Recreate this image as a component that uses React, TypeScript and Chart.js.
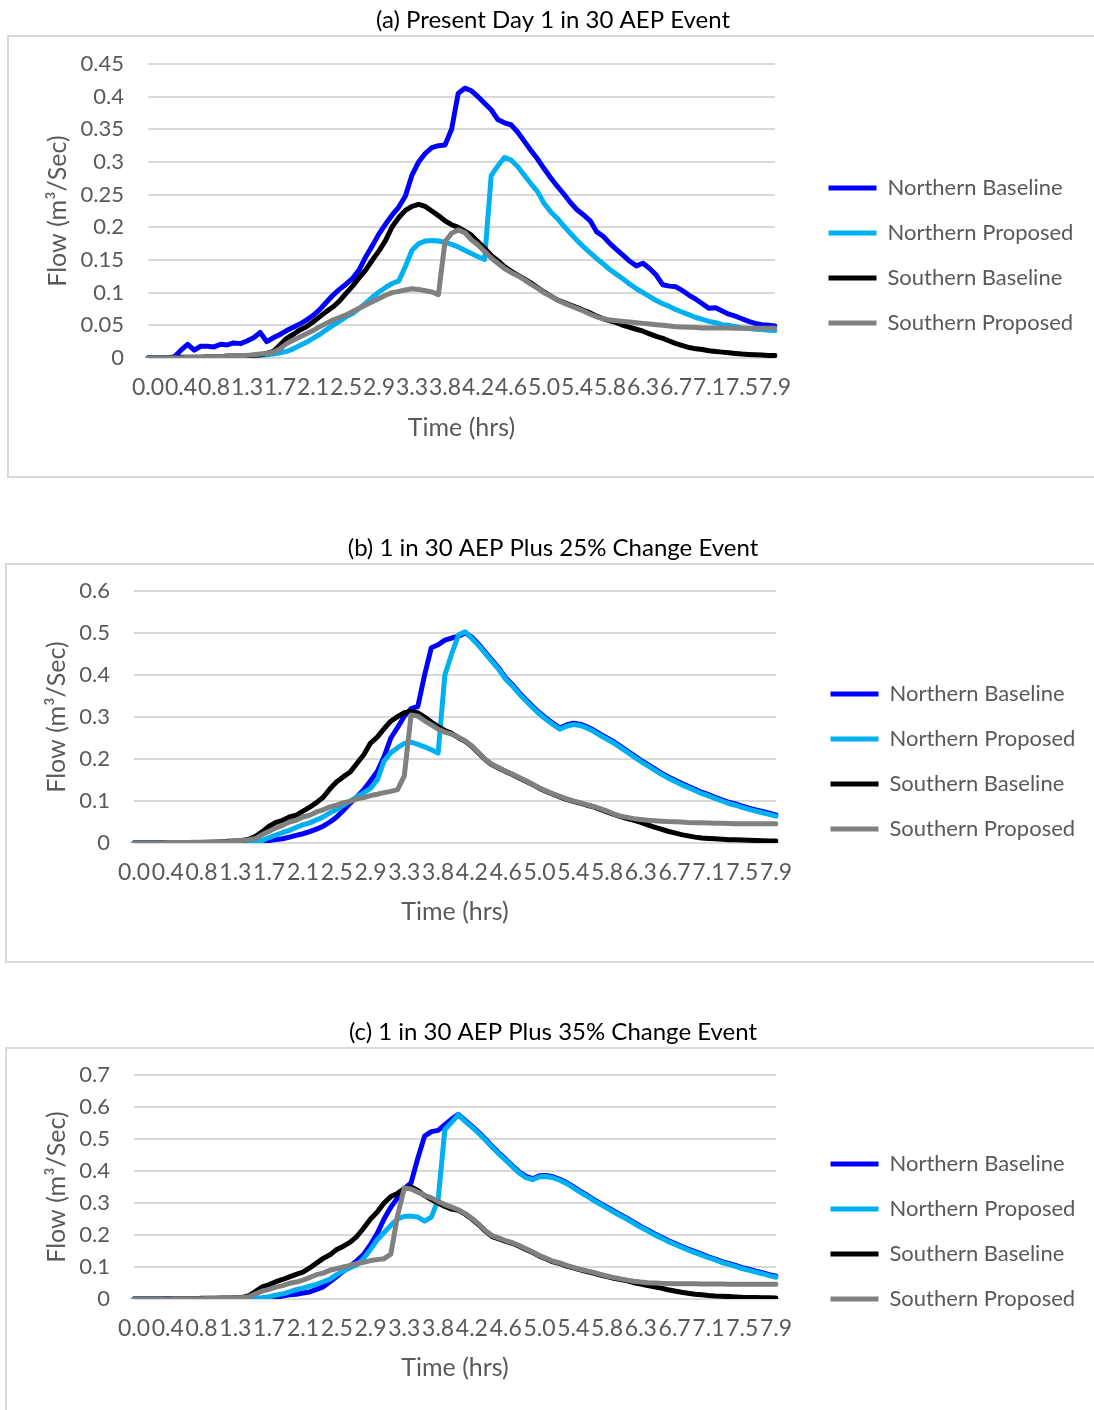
import React, { useEffect, useRef } from "react";
import { Chart, registerables } from "chart.js";

Chart.register(...registerables);

// ---------------- data ----------------
const TIME_LABELS = [
  "0.0","0.1","0.2","0.3","0.3","0.4","0.5","0.6","0.7","0.8",
  "0.8","0.9","1.0","1.1","1.2","1.3","1.3","1.4","1.5","1.6",
  "1.7","1.8","1.8","1.9","2.0","2.1","2.2","2.3","2.3","2.4",
  "2.5","2.6","2.7","2.8","2.8","2.9","3.0","3.1","3.2","3.3",
  "3.3","3.4","3.5","3.6","3.7","3.8","3.8","3.9","4.0","4.1",
  "4.2","4.3","4.3","4.4","4.5","4.6","4.7","4.8","4.8","4.9",
  "5.0","5.1","5.2","5.3","5.3","5.4","5.5","5.6","5.7","5.8",
  "5.8","5.9","6.0","6.1","6.2","6.3","6.3","6.4","6.5","6.6",
  "6.7","6.8","6.8","6.9","7.0","7.1","7.2","7.3","7.3","7.4",
  "7.5","7.6","7.7","7.8","7.8","7.9",
];
const LABEL_STEP = 5;

const SERIES_NAMES = ["Northern Baseline", "Northern Proposed", "Southern Baseline", "Southern Proposed"];
const SERIES_COLORS = ["#0000FF", "#00B0F0", "#000000", "#808080"];

const TITLES = [
  "(a) Present Day 1 in 30 AEP Event",
  "(b) 1 in 30 AEP Plus 25% Change Event",
  "(c) 1 in 30 AEP Plus 35% Change Event",
];
const X_TITLE = "Time (hrs)";
const Y_TITLE = "Flow (m³/Sec)";
const Y_MAX = [0.45, 0.6, 0.7];
const Y_STEP = [0.05, 0.1, 0.1];

// (a) Present day
const A_NORTH_BASE = [
  0, 0, 0, 0, 0.002, 0.012, 0.021, 0.012, 0.018, 0.018,
  0.017, 0.021, 0.020, 0.023, 0.022, 0.026, 0.031, 0.039, 0.025, 0.031,
  0.036, 0.042, 0.047, 0.052, 0.058, 0.065, 0.074, 0.085, 0.096, 0.105,
  0.113, 0.122, 0.135, 0.155, 0.172, 0.190, 0.205, 0.219, 0.231, 0.248,
  0.280, 0.300, 0.313, 0.322, 0.325, 0.326, 0.350, 0.405, 0.413, 0.409,
  0.400, 0.390, 0.380, 0.365, 0.360, 0.357, 0.346, 0.332, 0.318, 0.305,
  0.290, 0.276, 0.263, 0.251, 0.238, 0.227, 0.219, 0.210, 0.193, 0.186,
  0.175, 0.166, 0.157, 0.148, 0.141, 0.145, 0.137, 0.127, 0.112, 0.110,
  0.109, 0.103, 0.096, 0.090, 0.083, 0.076, 0.077, 0.072, 0.067, 0.064,
  0.060, 0.056, 0.053, 0.051, 0.050, 0.049,
];
const A_NORTH_PROP = [
  0, 0, 0, 0, 0, 0, 0, 0, 0, 0,
  0, 0.001, 0.001, 0.001, 0.002, 0.002, 0.003, 0.004, 0.005, 0.006,
  0.008, 0.010, 0.014, 0.019, 0.024, 0.030, 0.036, 0.043, 0.050, 0.056,
  0.063, 0.068, 0.076, 0.084, 0.093, 0.101, 0.108, 0.114, 0.118, 0.140,
  0.165, 0.175, 0.179, 0.180, 0.179, 0.177, 0.174, 0.170, 0.165, 0.160,
  0.155, 0.151, 0.279, 0.294, 0.307, 0.303, 0.293, 0.280, 0.267, 0.255,
  0.237, 0.224, 0.214, 0.202, 0.191, 0.180, 0.170, 0.161, 0.152, 0.144,
  0.135, 0.128, 0.121, 0.113, 0.106, 0.100, 0.094, 0.088, 0.083, 0.079,
  0.074, 0.070, 0.066, 0.062, 0.059, 0.056, 0.054, 0.051, 0.050, 0.048,
  0.046, 0.045, 0.044, 0.0435, 0.0425, 0.042,
];
const A_SOUTH_BASE = [
  0, 0, 0, 0, 0, 0.001, 0.001, 0.001, 0.001, 0.002,
  0.002, 0.002, 0.003, 0.003, 0.003, 0.004, 0.004, 0.005, 0.007, 0.010,
  0.020, 0.030, 0.036, 0.043, 0.048, 0.055, 0.063, 0.071, 0.078, 0.087,
  0.099, 0.110, 0.123, 0.135, 0.150, 0.164, 0.180, 0.201, 0.215, 0.226,
  0.232, 0.235, 0.232, 0.225, 0.218, 0.210, 0.204, 0.200, 0.194, 0.188,
  0.178, 0.168, 0.157, 0.149, 0.140, 0.133, 0.127, 0.121, 0.115, 0.108,
  0.101, 0.095, 0.089, 0.085, 0.081, 0.077, 0.073, 0.069, 0.064, 0.060,
  0.057, 0.054, 0.050, 0.047, 0.044, 0.041, 0.037, 0.033, 0.030, 0.026,
  0.022, 0.019, 0.016, 0.014, 0.013, 0.011, 0.010, 0.009, 0.008, 0.007,
  0.006, 0.0055, 0.005, 0.0045, 0.004, 0.004,
];
const A_SOUTH_PROP = [
  0, 0, 0, 0, 0, 0, 0.001, 0.001, 0.001, 0.002,
  0.002, 0.002, 0.003, 0.003, 0.004, 0.004, 0.005, 0.006, 0.007, 0.009,
  0.014, 0.022, 0.027, 0.032, 0.037, 0.042, 0.048, 0.053, 0.058, 0.062,
  0.066, 0.071, 0.076, 0.081, 0.086, 0.091, 0.096, 0.100, 0.102, 0.104,
  0.106, 0.105, 0.103, 0.101, 0.097, 0.178, 0.191, 0.196, 0.192, 0.181,
  0.173, 0.163, 0.153, 0.145, 0.137, 0.131, 0.126, 0.120, 0.113, 0.107,
  0.100, 0.095, 0.089, 0.084, 0.080, 0.076, 0.072, 0.067, 0.063, 0.060,
  0.058, 0.057, 0.056, 0.055, 0.054, 0.053, 0.052, 0.051, 0.050, 0.049,
  0.048, 0.0475, 0.047, 0.0465, 0.046, 0.046, 0.046, 0.046, 0.0458, 0.0456,
  0.0455, 0.0455, 0.0455, 0.0455, 0.0455, 0.0455,
];

// (b) plus 25%
const B_NORTH_BASE = [
  0, 0, 0, 0, 0, 0, 0, 0, 0, 0,
  0, 0.001, 0.001, 0.001, 0.001, 0.002, 0.002, 0.002, 0.003, 0.004,
  0.006, 0.008, 0.010, 0.014, 0.018, 0.022, 0.027, 0.033, 0.040, 0.050,
  0.062, 0.078, 0.095, 0.110, 0.127, 0.148, 0.170, 0.205, 0.250, 0.275,
  0.302, 0.320, 0.325, 0.400, 0.465, 0.472, 0.483, 0.488, 0.492, 0.500,
  0.490, 0.473, 0.454, 0.435, 0.416, 0.393, 0.377, 0.358, 0.341, 0.325,
  0.310, 0.297, 0.285, 0.274, 0.281, 0.285, 0.283, 0.277, 0.269, 0.259,
  0.250, 0.241, 0.230, 0.219, 0.208, 0.197, 0.187, 0.177, 0.167, 0.158,
  0.150, 0.142, 0.135, 0.128, 0.121, 0.115, 0.109, 0.103, 0.097, 0.093,
  0.088, 0.083, 0.079, 0.075, 0.071, 0.067,
];
const B_NORTH_PROP = [
  0, 0, 0, 0, 0, 0, 0, 0, 0, 0,
  0, 0, 0, 0, 0, 0, 0, 0.001, 0.003, 0.006,
  0.013, 0.019, 0.025, 0.030, 0.037, 0.043, 0.048, 0.055, 0.062, 0.072,
  0.080, 0.090, 0.100, 0.110, 0.120, 0.130, 0.150, 0.195, 0.215, 0.227,
  0.237, 0.240, 0.235, 0.229, 0.222, 0.214, 0.400, 0.450, 0.495, 0.503,
  0.487, 0.470, 0.451, 0.432, 0.413, 0.390, 0.374, 0.355, 0.338, 0.322,
  0.307, 0.294, 0.282, 0.271, 0.278, 0.282, 0.280, 0.274, 0.266, 0.256,
  0.247, 0.238, 0.227, 0.216, 0.205, 0.194, 0.184, 0.174, 0.164, 0.155,
  0.147, 0.139, 0.132, 0.125, 0.118, 0.112, 0.106, 0.100, 0.094, 0.090,
  0.085, 0.080, 0.076, 0.072, 0.068, 0.064,
];
const B_SOUTH_BASE = [
  0, 0, 0, 0, 0, 0.001, 0.001, 0.001, 0.001, 0.001,
  0.001, 0.002, 0.002, 0.003, 0.004, 0.005, 0.006, 0.009, 0.016, 0.027,
  0.040, 0.049, 0.054, 0.062, 0.066, 0.076, 0.085, 0.096, 0.109, 0.129,
  0.146, 0.158, 0.169, 0.190, 0.210, 0.238, 0.252, 0.272, 0.290, 0.301,
  0.310, 0.313, 0.310, 0.300, 0.288, 0.277, 0.268, 0.261, 0.251, 0.242,
  0.230, 0.214, 0.198, 0.186, 0.178, 0.170, 0.163, 0.155, 0.147, 0.139,
  0.130, 0.123, 0.116, 0.110, 0.104, 0.099, 0.095, 0.090, 0.086, 0.080,
  0.074, 0.068, 0.063, 0.058, 0.054, 0.049, 0.043, 0.038, 0.033, 0.028,
  0.024, 0.020, 0.017, 0.014, 0.012, 0.011, 0.010, 0.009, 0.008, 0.0075,
  0.007, 0.0065, 0.006, 0.0055, 0.005, 0.005,
];
const B_SOUTH_PROP = [
  0, 0, 0, 0, 0, 0.001, 0.001, 0.001, 0.001, 0.002,
  0.002, 0.002, 0.003, 0.003, 0.003, 0.005, 0.006, 0.008, 0.011, 0.020,
  0.028, 0.036, 0.042, 0.050, 0.054, 0.062, 0.066, 0.074, 0.079, 0.086,
  0.090, 0.096, 0.099, 0.105, 0.108, 0.113, 0.116, 0.120, 0.123, 0.127,
  0.160, 0.305, 0.302, 0.291, 0.281, 0.271, 0.264, 0.259, 0.252, 0.243,
  0.231, 0.215, 0.199, 0.187, 0.179, 0.171, 0.164, 0.156, 0.148, 0.140,
  0.131, 0.124, 0.117, 0.111, 0.105, 0.100, 0.096, 0.091, 0.087, 0.082,
  0.076, 0.069, 0.064, 0.061, 0.058, 0.056, 0.054, 0.053, 0.052, 0.051,
  0.0505, 0.050, 0.049, 0.0485, 0.048, 0.0475, 0.047, 0.047, 0.0465, 0.046,
  0.046, 0.046, 0.046, 0.046, 0.046, 0.046,
];

// (c) plus 35%
const C_NORTH_BASE = [
  0, 0, 0, 0, 0, 0, 0, 0, 0, 0,
  0, 0, 0, 0, 0.001, 0.001, 0.001, 0.001, 0.002, 0.003,
  0.005, 0.006, 0.009, 0.013, 0.015, 0.019, 0.022, 0.030, 0.038, 0.054,
  0.070, 0.087, 0.103, 0.120, 0.140, 0.170, 0.205, 0.250, 0.287, 0.316,
  0.345, 0.363, 0.440, 0.509, 0.523, 0.527, 0.545, 0.562, 0.577, 0.558,
  0.540, 0.521, 0.500, 0.477, 0.456, 0.437, 0.416, 0.397, 0.383, 0.376,
  0.385, 0.386, 0.382, 0.374, 0.364, 0.351, 0.337, 0.325, 0.311, 0.299,
  0.287, 0.275, 0.263, 0.252, 0.239, 0.227, 0.216, 0.204, 0.194, 0.183,
  0.174, 0.165, 0.156, 0.148, 0.140, 0.132, 0.125, 0.117, 0.111, 0.105,
  0.098, 0.093, 0.087, 0.082, 0.076, 0.071,
];
const C_NORTH_PROP = [
  0, 0, 0, 0, 0, 0, 0, 0, 0, 0,
  0, 0, 0, 0, 0, 0, 0, 0.001, 0.002, 0.003,
  0.007, 0.012, 0.016, 0.022, 0.029, 0.034, 0.040, 0.046, 0.054, 0.062,
  0.076, 0.088, 0.098, 0.107, 0.127, 0.155, 0.185, 0.208, 0.230, 0.250,
  0.258, 0.259, 0.256, 0.243, 0.256, 0.310, 0.530, 0.552, 0.576, 0.555,
  0.537, 0.518, 0.497, 0.474, 0.453, 0.434, 0.413, 0.394, 0.379, 0.373,
  0.382, 0.383, 0.379, 0.371, 0.361, 0.348, 0.334, 0.322, 0.308, 0.296,
  0.284, 0.272, 0.260, 0.249, 0.236, 0.224, 0.213, 0.201, 0.191, 0.180,
  0.171, 0.162, 0.153, 0.145, 0.137, 0.129, 0.122, 0.114, 0.108, 0.102,
  0.095, 0.090, 0.084, 0.079, 0.073, 0.068,
];
const C_SOUTH_BASE = [
  0, 0, 0, 0, 0, 0.001, 0.001, 0.001, 0.001, 0.001,
  0.002, 0.002, 0.002, 0.003, 0.003, 0.004, 0.005, 0.010, 0.024, 0.038,
  0.045, 0.054, 0.061, 0.069, 0.077, 0.084, 0.097, 0.112, 0.127, 0.138,
  0.155, 0.165, 0.178, 0.196, 0.222, 0.250, 0.272, 0.300, 0.320, 0.330,
  0.345, 0.350, 0.339, 0.323, 0.311, 0.300, 0.289, 0.281, 0.277, 0.265,
  0.250, 0.232, 0.212, 0.195, 0.188, 0.180, 0.174, 0.165, 0.155, 0.145,
  0.134, 0.125, 0.116, 0.111, 0.103, 0.097, 0.091, 0.086, 0.081, 0.075,
  0.070, 0.065, 0.061, 0.057, 0.051, 0.047, 0.042, 0.038, 0.034, 0.029,
  0.025, 0.021, 0.018, 0.015, 0.013, 0.011, 0.0095, 0.0085, 0.0075, 0.0065,
  0.0055, 0.005, 0.0045, 0.004, 0.004, 0.0035,
];
const C_SOUTH_PROP = [
  0, 0, 0, 0, 0, 0, 0.001, 0.001, 0.001, 0.001,
  0.001, 0.002, 0.002, 0.003, 0.003, 0.004, 0.005, 0.007, 0.016, 0.025,
  0.030, 0.037, 0.042, 0.049, 0.053, 0.059, 0.067, 0.076, 0.081, 0.090,
  0.095, 0.100, 0.105, 0.111, 0.115, 0.120, 0.123, 0.126, 0.140, 0.260,
  0.347, 0.344, 0.334, 0.324, 0.316, 0.305, 0.295, 0.287, 0.279, 0.267,
  0.252, 0.234, 0.214, 0.198, 0.190, 0.182, 0.176, 0.167, 0.157, 0.147,
  0.136, 0.127, 0.118, 0.113, 0.105, 0.099, 0.093, 0.088, 0.083, 0.077,
  0.072, 0.067, 0.063, 0.059, 0.0555, 0.053, 0.051, 0.050, 0.049, 0.0487,
  0.048, 0.0478, 0.0476, 0.0474, 0.0472, 0.047, 0.0468, 0.0466, 0.0464, 0.0462,
  0.046, 0.046, 0.046, 0.046, 0.046, 0.046,
];

const PANEL_SERIES = [
  [A_NORTH_BASE, A_NORTH_PROP, A_SOUTH_BASE, A_SOUTH_PROP],
  [B_NORTH_BASE, B_NORTH_PROP, B_SOUTH_BASE, B_SOUTH_PROP],
  [C_NORTH_BASE, C_NORTH_PROP, C_SOUTH_BASE, C_SOUTH_PROP],
];

// ---------------- layout / style ----------------
const PAGE_W = 1094;
const PAGE_H = 1410;
const FONT = 'Lato, "Open Sans", "DejaVu Sans", sans-serif';
const TITLE_FS = 24;
const YTICK_FS = 22;
const XTICK_FS = 23;
const AXIS_TITLE_FS = 25;
const LEG_FS = 22;
const TEXT = "#595959";
const GRID = "#D9D9D9";
const LINE_W = 5;
const LEG_PAD = 23;
const LEG_LINE = 48;
const PAD_LEFT = 12;

const LAYOUTS = [
  { top: 0, titleY: 20, chartTop: 64, chartBottom: 358, chartLeft: 148, chartRight: 775, legendX: 826, legendFirstY: 188, xLabelY: 388, xTitleY: 428, yTitleX: 58, boxLeft: 7, boxTop: 35, boxBottom: 478 },
  { top: 520, titleY: 548, chartTop: 591, chartBottom: 843, chartLeft: 134, chartRight: 776, legendX: 828, legendFirstY: 694, xLabelY: 873, xTitleY: 912, yTitleX: 57, boxLeft: 5, boxTop: 563, boxBottom: 963 },
  { top: 1005, titleY: 1032, chartTop: 1075, chartBottom: 1299, chartLeft: 134, chartRight: 776, legendX: 828, legendFirstY: 1164, xLabelY: 1329, xTitleY: 1368, yTitleX: 57, boxLeft: 5, boxTop: 1047, boxBottom: 1440 },
];

function canvasHeight(lay: any) {
  const colH = SERIES_NAMES.length * (LEG_FS + LEG_PAD);
  const cursorY = lay.legendFirstY - lay.top - LEG_FS / 2;
  return Math.round(2 * cursorY - LEG_PAD + colH);
}

function FlowChart({ idx }: { idx: number }) {
  const ref = useRef<HTMLCanvasElement | null>(null);
  const lay: any = LAYOUTS[idx];
  const H = canvasHeight(lay);

  useEffect(() => {
    const canvas = ref.current;
    if (!canvas) return;
    const itemX = lay.legendX + LINE_W / 2;
    const legendLeft = itemX - LEG_PAD;
    const gapW = legendLeft - lay.chartRight;
    const legendW = PAGE_W - legendLeft;
    const mk = (size: number) => ({ family: FONT, size, weight: "normal" as const, lineHeight: 1.2 });
    const titleLH = TITLE_FS * 1.2;
    const xTickLH = XTICK_FS * 1.2;
    const axisLH = AXIS_TITLE_FS * 1.2;
    const series = PANEL_SERIES[idx];

    const chart = new Chart(canvas, {
      type: "line",
      data: {
        labels: TIME_LABELS,
        datasets: SERIES_NAMES.map((name, k) => ({
          label: name,
          data: series[k],
          borderColor: SERIES_COLORS[k],
          backgroundColor: SERIES_COLORS[k],
          borderWidth: LINE_W,
          pointRadius: 0,
          pointHoverRadius: 0,
          tension: 0,
          fill: false,
          borderCapStyle: "round",
          borderJoinStyle: "round",
          order: SERIES_NAMES.length - k,
        })),
      },
      options: {
        responsive: false,
        animation: false,
        devicePixelRatio: 1,
        events: [],
        layout: { padding: { left: PAD_LEFT, right: 0, top: 0, bottom: 0 } },
        plugins: {
          title: {
            display: true,
            text: TITLES[idx],
            color: "#000000",
            font: mk(TITLE_FS),
            padding: { top: lay.titleY - lay.top - titleLH / 2, bottom: lay.chartTop - lay.titleY - titleLH / 2 },
          },
          legend: {
            position: "right",
            align: "center",
            labels: {
              usePointStyle: true,
              pointStyle: "line",
              pointStyleWidth: LEG_LINE,
              padding: LEG_PAD,
              color: TEXT,
              font: mk(LEG_FS),
              sort: (a: any, b: any) => a.datasetIndex - b.datasetIndex,
            },
          },
          tooltip: { enabled: false },
        },
        scales: {
          x: {
            type: "category",
            offset: false,
            grid: { display: false, drawTicks: false },
            border: { display: false },
            ticks: {
              autoSkip: false,
              maxRotation: 0,
              minRotation: 0,
              padding: lay.xLabelY - lay.chartBottom - xTickLH / 2,
              color: TEXT,
              font: mk(XTICK_FS),
              callback: (_v: any, i: number) => (i % LABEL_STEP === 0 ? TIME_LABELS[i] : ""),
            },
            title: {
              display: true,
              text: X_TITLE,
              color: TEXT,
              font: mk(AXIS_TITLE_FS),
              padding: { top: 0, bottom: H - (lay.xTitleY - lay.top) - axisLH / 2 },
            },
            afterFit: (s: any) => {
              s.height = H - (lay.chartBottom - lay.top);
            },
          },
          y: {
            type: "linear",
            min: 0,
            max: Y_MAX[idx],
            grid: { color: GRID, lineWidth: 2, drawTicks: false },
            border: { display: false },
            ticks: {
              stepSize: Y_STEP[idx],
              padding: 24,
              color: TEXT,
              font: mk(YTICK_FS),
              callback: (v: any) => String(Number(Number(v).toFixed(3))),
            },
            title: {
              display: true,
              text: Y_TITLE,
              color: TEXT,
              font: mk(AXIS_TITLE_FS),
              padding: { top: lay.yTitleX - PAD_LEFT - axisLH / 2, bottom: 0 },
            },
            afterFit: (s: any) => {
              s.width = lay.chartLeft - PAD_LEFT;
            },
          },
          gap: {
            type: "linear",
            position: "right",
            display: true,
            grid: { display: false, drawTicks: false },
            border: { display: false },
            ticks: { display: false },
            title: { display: false },
            afterFit: (s: any) => {
              s.width = gapW;
            },
          },
        },
      } as any,
      plugins: [
        {
          id: "fixedLegendWidth",
          beforeLayout(c: any) {
            const lg = c.legend;
            if (lg && !lg._fixedW) {
              const f = lg.fit;
              lg.fit = function () {
                f.call(this);
                this.width = legendW;
              };
              lg._fixedW = true;
            }
          },
        },
      ],
    } as any);
    return () => chart.destroy();
  }, [idx]);

  return (
    <canvas
      ref={ref}
      width={PAGE_W}
      height={H}
      style={{ position: "absolute", left: 0, top: lay.top, width: PAGE_W, height: H }}
    />
  );
}

export default function App() {
  return (
    <div
      style={{
        position: "absolute",
        left: 0,
        top: 0,
        width: PAGE_W,
        height: PAGE_H,
        overflow: "hidden",
        background: "#ffffff",
      }}
    >
      {LAYOUTS.map((lay, i) => (
        <div
          key={"box" + i}
          style={{
            position: "absolute",
            left: lay.boxLeft,
            top: lay.boxTop,
            width: PAGE_W + 40,
            height: lay.boxBottom - lay.boxTop,
            border: "2px solid " + GRID,
            boxSizing: "border-box",
          }}
        />
      ))}
      {LAYOUTS.map((_lay, i) => (
        <FlowChart key={"chart" + i} idx={i} />
      ))}
    </div>
  );
}
